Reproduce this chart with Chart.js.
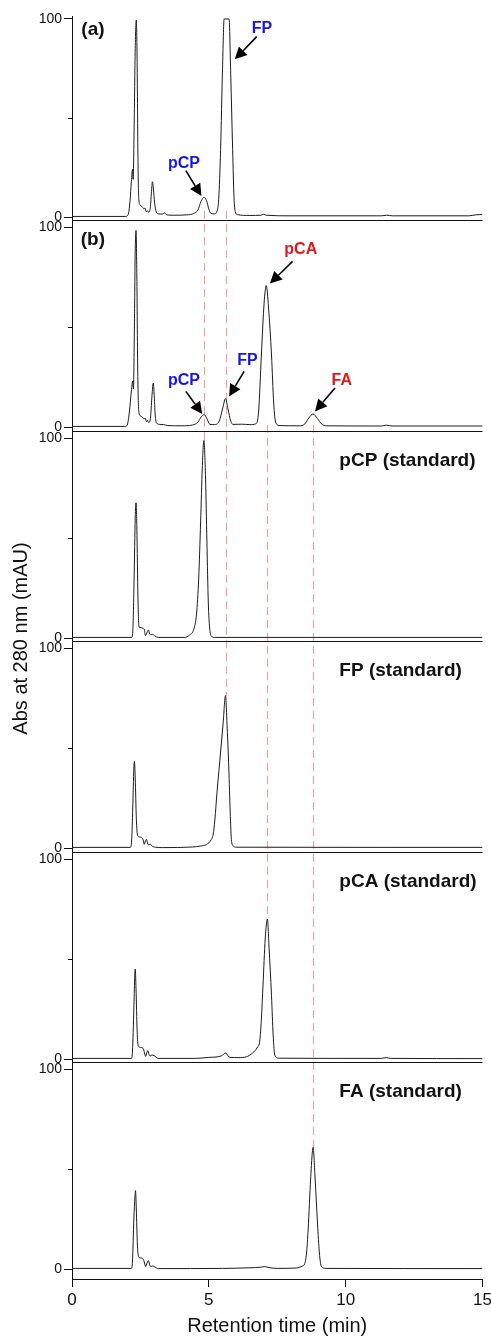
<!DOCTYPE html>
<html>
<head>
<meta charset="utf-8">
<script src="https://cdn.jsdelivr.net/npm/chart.js@4.4.1/dist/chart.umd.min.js"></script>
<style>
  html, body { margin: 0; padding: 0; background: #fff; }
  #wrap { width: 491px; height: 1338px; position: relative; }
</style>
</head>
<body>
<div id="wrap"><canvas id="hplc"></canvas></div>
<script>
// HPLC traces at 280 nm: [retention time (min), absorbance (mAU)]
const sampleA = [
  [0, 0.3], [1.95, 0.3], [2.05, 1.2], [2.12, 8], [2.17, 18], [2.21, 24], [2.235, 19], [2.27, 45],
  [2.31, 85], [2.35, 99.5], [2.38, 78], [2.41, 30], [2.44, 9], [2.5, 6], [2.57, 5], [2.62, 4.2],
  [2.67, 4.5], [2.72, 2.6], [2.76, 3.2], [2.8, 2.4], [2.86, 4.5], [2.91, 14], [2.94, 17.8], [2.97, 15],
  [3.02, 7], [3.08, 2.5], [3.15, 1.6], [3.3, 1.5], [3.38, 2.1], [3.46, 1.1], [3.7, 0.9], [4.2, 1.1],
  [4.45, 1.8], [4.6, 3.5], [4.72, 8], [4.83, 10], [4.92, 8.2], [5.0, 4], [5.08, 1.8], [5.2, 1.6],
  [5.3, 3], [5.36, 9], [5.43, 34], [5.5, 75], [5.56, 100], [5.74, 100], [5.8, 72], [5.87, 34],
  [5.92, 10], [5.97, 2.5], [6.05, 1.2], [6.5, 0.8], [6.9, 0.9], [7.0, 1.4], [7.1, 0.9], [8, 0.6],
  [11.3, 0.6], [11.5, 0.9], [11.7, 0.6], [14.5, 0.6], [14.75, 1.1], [15, 1.3]
];
const sampleB = [
  [0, 0.3], [1.95, 0.3], [2.03, 1.5], [2.1, 8], [2.17, 18], [2.22, 23], [2.245, 19], [2.28, 50],
  [2.31, 88], [2.34, 98.3], [2.37, 75], [2.4, 30], [2.44, 8], [2.5, 5.5], [2.57, 5], [2.63, 4],
  [2.68, 4.4], [2.72, 2.6], [2.76, 3.3], [2.8, 2.2], [2.87, 5], [2.93, 17], [2.97, 22], [3.0, 17],
  [3.04, 6], [3.09, 2], [3.2, 1.3], [3.35, 1.2], [3.5, 0.7], [4.0, 0.6], [4.4, 1], [4.6, 2.4],
  [4.72, 5], [4.83, 6.2], [4.93, 4.2], [5.04, 1.3], [5.2, 1.2], [5.38, 3], [5.5, 9], [5.61, 14.2],
  [5.7, 9], [5.8, 3], [5.88, 1.3], [6.2, 1.4], [6.5, 1.2], [6.72, 1.6], [6.82, 8], [6.92, 36],
  [7.02, 62], [7.1, 70.7], [7.18, 60], [7.29, 36], [7.37, 12], [7.45, 2], [7.6, 0.7], [8.3, 0.6],
  [8.5, 1.4], [8.65, 4.5], [8.81, 6.5], [8.97, 4.2], [9.12, 1.5], [9.3, 0.6], [11.3, 0.5],
  [11.49, 0.9], [11.7, 0.5], [15, 0.5]
];
const stdPCP = [
  [0, 0.3], [2.18, 0.3], [2.22, 3], [2.27, 30], [2.31, 60], [2.34, 67.6], [2.37, 55], [2.41, 20],
  [2.45, 5.5], [2.52, 5.2], [2.6, 4.8], [2.64, 4.5], [2.68, 1.2], [2.75, 3], [2.79, 4], [2.84, 2],
  [2.88, 1.6], [2.95, 1.8], [3.03, 1], [3.15, 0.3], [4.1, 0.3], [4.3, 1.5], [4.45, 4.4], [4.55, 12],
  [4.63, 30], [4.7, 58], [4.76, 85], [4.82, 98.8], [4.88, 80], [4.93, 48], [4.98, 18], [5.03, 5],
  [5.09, 1], [5.2, 0.3], [15, 0.3]
];
const stdFP = [
  [0, 0.3], [2.13, 0.3], [2.18, 4], [2.22, 20], [2.26, 40], [2.28, 43.3], [2.31, 35], [2.35, 15],
  [2.4, 6.2], [2.47, 5.5], [2.54, 5.3], [2.6, 4], [2.64, 1.8], [2.68, 3.5], [2.72, 4.3], [2.77, 2],
  [2.81, 1.5], [2.86, 2], [2.92, 1], [3.05, 0.4], [3.3, 0.2], [4.4, 0.5], [4.7, 1], [4.92, 1.8],
  [5.08, 4], [5.16, 7], [5.22, 14], [5.3, 28], [5.43, 48], [5.52, 62], [5.61, 76.2], [5.67, 60],
  [5.73, 40], [5.78, 18], [5.83, 3.3], [5.9, 1], [5.97, 0.4], [15, 0.3]
];
const stdPCA = [
  [0, 0.3], [2.17, 0.3], [2.21, 4], [2.26, 25], [2.29, 40], [2.31, 45], [2.34, 35], [2.38, 14],
  [2.42, 6.7], [2.5, 5.8], [2.6, 5.3], [2.65, 3], [2.69, 1.3], [2.73, 3], [2.77, 4.2], [2.81, 2.4],
  [2.85, 1.4], [2.92, 2], [3.0, 1.7], [3.15, 0.3], [4.5, 0.3], [5.0, 0.8], [5.45, 1.5], [5.55, 2.5],
  [5.62, 3], [5.7, 1.6], [5.77, 0.8], [6.1, 0.7], [6.37, 1.1], [6.6, 3], [6.78, 6], [6.86, 9],
  [6.92, 20], [6.98, 37], [7.06, 60], [7.14, 70], [7.2, 56], [7.29, 31.7], [7.35, 12], [7.41, 2],
  [7.55, 0.4], [11.3, 0.3], [11.48, 0.7], [11.65, 0.3], [15, 0.2]
];
const stdFA = [
  [0, 0.3], [2.17, 0.3], [2.21, 4], [2.26, 25], [2.3, 36], [2.32, 39.2], [2.35, 30], [2.39, 12],
  [2.45, 5.8], [2.52, 5.5], [2.6, 5], [2.65, 3], [2.69, 1.3], [2.74, 3], [2.79, 4.2], [2.83, 2.5],
  [2.87, 1.3], [2.95, 1.5], [3.03, 1], [3.15, 0.2], [5.5, 0.3], [6.5, 0.6], [6.9, 0.9], [7.04, 1.2],
  [7.2, 0.7], [7.5, 0.3], [8.2, 0.5], [8.42, 1.5], [8.5, 2.5], [8.57, 8], [8.63, 20], [8.72, 45],
  [8.81, 60.8], [8.88, 46], [8.97, 23], [9.04, 8], [9.11, 1.3], [9.28, 0.3], [15, 0.2]
];

const xTicks = [0, 5, 10, 15];
const yTicks = [0, 50, 100];

// panel captions, placed in data units of each panel
const captions = [
  { axis: 'yA', t: 0.34, v: 94.4, text: '(a)' },
  { axis: 'yB', t: 0.32, v: 93.6, text: '(b)' },
  { axis: 'yPCP', t: 9.77, v: 88.6, text: 'pCP (standard)' },
  { axis: 'yFP', t: 9.77, v: 88.6, text: 'FP (standard)' },
  { axis: 'yPCA', t: 9.77, v: 88.6, text: 'pCA (standard)' },
  { axis: 'yFA', t: 9.77, v: 88.6, text: 'FA (standard)' }
];

// peak labels with their arrows (label centre, arrow tail, arrow tip)
const BLUE = 'rgb(22,22,235)', RED = 'rgb(232,22,22)';
const peakTags = [
  { axis: 'yA', text: 'FP', color: BLUE, at: [6.94, 95.3], from: [6.75, 91.1], to: [5.95, 79.6] },
  { axis: 'yA', text: 'pCP', color: BLUE, at: [4.09, 27.1], from: [4.16, 23.4], to: [4.73, 10.6] },
  { axis: 'yB', text: 'pCA', color: RED, at: [8.36, 88.6], from: [8.06, 82.8], to: [7.23, 71.7] },
  { axis: 'yB', text: 'pCP', color: BLUE, at: [4.09, 23.3], from: [4.16, 17.8], to: [4.76, 6.5] },
  { axis: 'yB', text: 'FP', color: BLUE, at: [6.41, 33.3], from: [6.29, 27.8], to: [5.74, 15.3] },
  { axis: 'yB', text: 'FA', color: RED, at: [9.86, 23.3], from: [9.61, 19.5], to: [8.88, 7.8] }
];

// dashed guides linking sample peaks to the standards
const guides = [
  { t: 4.83, from: ['yA', 3], to: ['yPCP', 98] },
  { t: 5.61, from: ['yA', 3], to: ['yFP', 76] },
  { t: 7.13, from: ['yB', 1], to: ['yPCA', 70] },
  { t: 8.81, from: ['yB', 1], to: ['yFA', 60.5] }
];

const panels = [
  { id: 'yA', trace: sampleA, min: -1.5, max: 101.5, h: 204 },
  { id: 'yB', trace: sampleB, min: -2, max: 103.5, h: 211 },
  { id: 'yPCP', trace: stdPCP, min: -1.5, max: 103.5, h: 210 },
  { id: 'yFP', trace: stdFP, min: -2, max: 103.5, h: 211 },
  { id: 'yPCA', trace: stdPCA, min: -1.5, max: 103.5, h: 210 },
  { id: 'yFA', trace: stdFA, min: -5, max: 103.5, h: 217 }
];

const INK = '#111';
const FONT = '"Liberation Sans", Arial, sans-serif';
Chart.defaults.font.family = FONT;
Chart.defaults.color = INK;

const scales = {
  x: {
    type: 'linear', position: 'bottom', min: 0, max: 15,
    afterBuildTicks: ax => { ax.ticks = xTicks.map(v => ({ value: v })); },
    grid: { drawOnChartArea: false, drawTicks: true, tickLength: 8, color: INK },
    border: { display: true, color: INK, width: 1 },
    ticks: { font: { size: 17 }, color: INK, padding: 3, maxRotation: 0, autoSkip: false },
    title: { display: true, text: 'Retention time (min)', font: { size: 20 }, color: INK, padding: { top: 4, bottom: 0 } },
    afterFit: ax => { ax.paddingLeft = 0; ax.paddingRight = 8.5; ax.height = 59; }
  }
};

panels.forEach((p, i) => {
  scales[p.id] = {
    type: 'linear', position: 'left', stack: 'panels', stackWeight: p.h,
    weight: panels.length - i,
    min: p.min, max: p.max,
    afterBuildTicks: ax => { ax.ticks = yTicks.map(v => ({ value: v })); },
    grid: {
      drawOnChartArea: false, drawTicks: true, tickLength: 8,
      tickColor: c => (c.tick && c.tick.value === 50 ? 'rgba(0,0,0,0)' : INK)
    },
    border: { display: true, color: INK, width: 1 },
    ticks: { font: { size: 14 }, color: INK, padding: 2, autoSkip: false, callback: v => (v === 50 ? '' : v) },
    afterFit: ax => { ax.width = 72; }
  };
});

function drawArrow(ctx, x0, y0, x1, y1) {
  const a = Math.atan2(y1 - y0, x1 - x0);
  const head = 12, half = 6;
  const bx = x1 - head * Math.cos(a), by = y1 - head * Math.sin(a);
  ctx.beginPath();
  ctx.moveTo(x0, y0);
  ctx.lineTo(bx, by);
  ctx.stroke();
  ctx.beginPath();
  ctx.moveTo(x1, y1);
  ctx.lineTo(bx + half * Math.sin(a), by - half * Math.cos(a));
  ctx.lineTo(bx - half * Math.sin(a), by + half * Math.cos(a));
  ctx.closePath();
  ctx.fill();
}

const overlay = {
  id: 'overlay',
  beforeDatasetsDraw(chart) {
    const ctx = chart.ctx, sx = chart.scales.x;
    ctx.save();
    ctx.strokeStyle = 'rgb(245,160,160)';
    ctx.lineWidth = 1.2;
    ctx.setLineDash([8, 5]);
    guides.forEach(g => {
      const px = Math.round(sx.getPixelForValue(g.t)) + 0.5;
      ctx.beginPath();
      ctx.moveTo(px, chart.scales[g.from[0]].getPixelForValue(g.from[1]));
      ctx.lineTo(px, chart.scales[g.to[0]].getPixelForValue(g.to[1]));
      ctx.stroke();
    });
    ctx.restore();
  },
  afterDatasetsDraw(chart) {
    const ctx = chart.ctx, sx = chart.scales.x, area = chart.chartArea;
    ctx.save();
    ctx.strokeStyle = INK;
    ctx.lineWidth = 1;

    // frame line under each panel, short mid tick at 50
    panels.forEach(p => {
      const sy = chart.scales[p.id];
      const yb = Math.round(sy.bottom) + 0.5;
      ctx.beginPath();
      ctx.moveTo(area.left, yb);
      ctx.lineTo(area.right, yb);
      ctx.stroke();
      const ym = Math.round(sy.getPixelForValue(50)) + 0.5;
      ctx.beginPath();
      ctx.moveTo(area.left - 4, ym);
      ctx.lineTo(area.left, ym);
      ctx.stroke();
    });

    // shared y title
    ctx.fillStyle = INK;
    ctx.font = '20px ' + FONT;
    ctx.textAlign = 'center';
    ctx.textBaseline = 'middle';
    ctx.save();
    ctx.translate(21, (area.top + area.bottom) / 2 - 9);
    ctx.rotate(-Math.PI / 2);
    ctx.fillText('Abs at 280 nm (mAU)', 0, 0);
    ctx.restore();

    // panel captions
    ctx.font = 'bold 19px ' + FONT;
    ctx.textAlign = 'left';
    captions.forEach(c => {
      ctx.fillText(c.text, sx.getPixelForValue(c.t), chart.scales[c.axis].getPixelForValue(c.v));
    });

    // peak tags
    ctx.font = 'bold 16px ' + FONT;
    ctx.textAlign = 'center';
    ctx.lineWidth = 1.6;
    peakTags.forEach(k => {
      const sy = chart.scales[k.axis];
      ctx.fillStyle = k.color;
      ctx.fillText(k.text, sx.getPixelForValue(k.at[0]), sy.getPixelForValue(k.at[1]));
      ctx.fillStyle = '#000';
      ctx.strokeStyle = '#000';
      drawArrow(ctx,
        sx.getPixelForValue(k.from[0]), sy.getPixelForValue(k.from[1]),
        sx.getPixelForValue(k.to[0]), sy.getPixelForValue(k.to[1]));
    });
    ctx.restore();
  }
};

new Chart(document.getElementById('hplc'), {
  type: 'line',
  data: {
    datasets: panels.map(p => ({
      data: p.trace.map(([t, v]) => ({ x: t, y: v })),
      yAxisID: p.id,
      xAxisID: 'x',
      borderColor: '#1c1c1c',
      borderWidth: 1,
      pointRadius: 0,
      cubicInterpolationMode: 'monotone',
      fill: false
    }))
  },
  options: {
    responsive: true,
    maintainAspectRatio: false,
    animation: false,
    events: [],
    layout: { padding: { top: 16, left: 0, right: 0, bottom: 0 } },
    plugins: { legend: { display: false }, tooltip: { enabled: false } },
    scales: scales
  },
  plugins: [overlay]
});
</script>
</body>
</html>
